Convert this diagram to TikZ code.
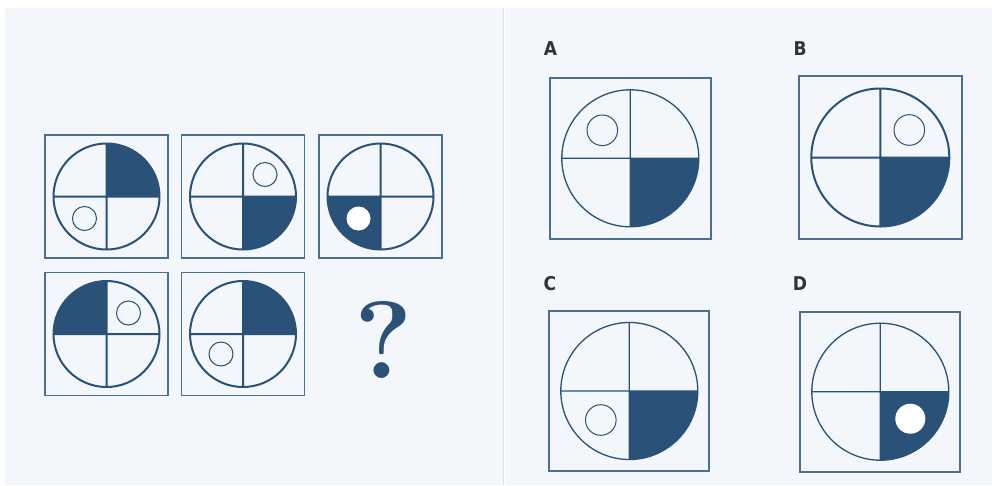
\documentclass[tikz,border=0pt]{standalone}
\usepackage{fontspec}
\newfontfamily\labelfont{DejaVu Sans Condensed}[BoldFont={DejaVu Sans Condensed Bold}]
\usetikzlibrary{positioning}
\definecolor{ink}{HTML}{2A5279}
\definecolor{framecol}{HTML}{4C7094}
\definecolor{paper}{HTML}{F3F7FC}
\definecolor{rulecol}{HTML}{DDE1E7}
\definecolor{lettercol}{HTML}{333333}
\tikzset{
  frame/.style={draw=framecol, line width=1.9pt},
  ring/.style={draw=ink, line width=2pt},
  thinring/.style={draw=ink, line width=1.3pt},
  dot/.style={draw=ink, line width=1pt},
  hole/.style={fill=white},
  letter/.style={font=\labelfont\bfseries\fontsize{19}{19}\selectfont, text=lettercol, inner sep=0pt},
}
% #1 centre, #2 half side, #3 radius, #4 ring style, #5 start angle of dark quarter, #6 extras
\newcommand\tile[6]{%
  \begin{scope}[shift={#1}, yscale=-1]
    \draw[frame] (-#2,-#2) rectangle (#2,#2);
    \fill[ink] (0,0) -- (#5:#3) arc[start angle=#5, end angle=#5+90, radius=#3] -- cycle;
    \draw[#4] (0,0) circle[radius=#3] (-#3,0) -- (#3,0) (0,-#3) -- (0,#3);
    #6
  \end{scope}}

\begin{document}
\begin{tikzpicture}[x=1pt, y=-1pt]
  \useasboundingbox (0,0) rectangle (992,485);
  \fill[white] (0,0) rectangle (992,485);
  \fill[paper] (5,8) rectangle (503,485);
  \fill[paper] (504.5,8) rectangle (992,485);
  \draw[rulecol, line width=1.5pt] (503.5,8) -- (503.5,485);

  % question rows
  \tile{(106.5,196.5)}{61.5}{53}{ring}{0}{\draw[dot] (-22,-22) circle[radius=12];}
  \tile{(243,196.5)}{61.5}{53}{ring}{270}{\draw[dot] (22,22) circle[radius=12];}
  \tile{(380.5,196.5)}{61.5}{53}{ring}{180}{\fill[hole] (-22,-22) circle[radius=12];}
  \tile{(106.5,334)}{61.5}{53}{ring}{90}{\draw[dot] (22,21) circle[radius=12];}
  \tile{(243,334)}{61.5}{53}{ring}{0}{\draw[dot] (-22,-20) circle[radius=12];}
  \node[text=ink, inner sep=0pt, font=\bfseries\fontsize{110}{110}\selectfont] (q) at (384,340) {?};

  % answer options
  \node[letter] (la) at (550.5,48.5) {A};
  \node[letter] (lb) at (800,48.5) {B};
  \node[letter] (lc) at (550,283.5) {C};
  \node[letter] (ld) at (800,283.5) {D};
  \tile{(630.3,158.3)}{80.5}{68.5}{thinring}{270}{\draw[dot] (-28,28) circle[radius=15.3];}
  \tile{(880.3,157.5)}{81.5}{69}{ring}{270}{\draw[dot] (29,27.5) circle[radius=15.3];}
  \tile{(629.3,391)}{80}{68.5}{thinring}{270}{\draw[dot] (-28.5,-29) circle[radius=15.3];}
  \tile{(880.3,391.7)}{80}{68.5}{thinring}{270}{\fill[hole] (30,-27) circle[radius=15];}
\end{tikzpicture}
\end{document}
